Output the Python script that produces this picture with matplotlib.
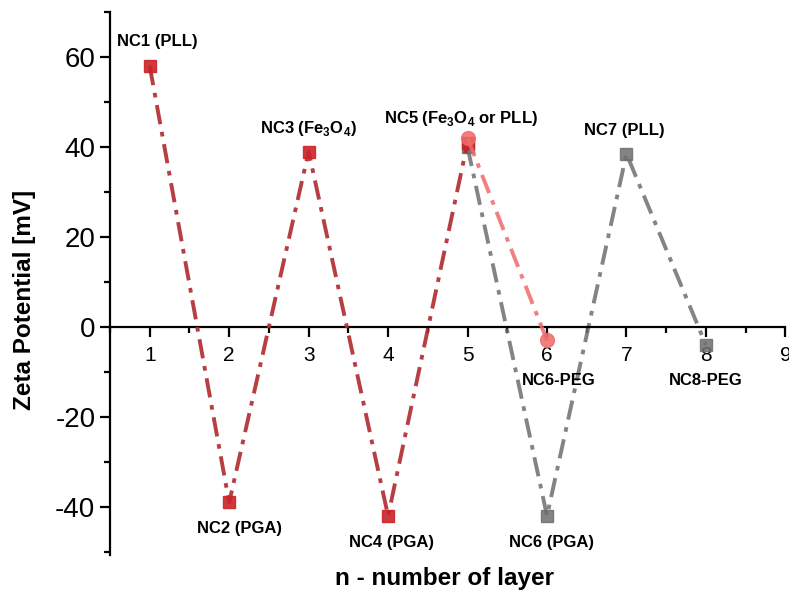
import matplotlib.pyplot as plt
from matplotlib.ticker import MultipleLocator

plt.rcParams['font.family'] = ['Liberation Sans', 'DejaVu Sans']
plt.rcParams['axes.unicode_minus'] = False

# layer-by-layer zeta potential
red_n = [1, 2, 3, 4, 5]
red_zeta = [58, -39, 39, -42, 41]
peg_n = [5, 6]
peg_zeta = [42, -3]
gray_n = [5, 6, 7, 8]
gray_zeta = [40, -42, 38.5, -4]

labels = ["NC1 (PLL)", "NC2 (PGA)", r"NC3 (Fe$_\mathregular{3}$O$_\mathregular{4}$)", "NC4 (PGA)",
          r"NC5 (Fe$_\mathregular{3}$O$_\mathregular{4}$ or PLL)", "NC6-PEG", "NC6 (PGA)",
          "NC7 (PLL)", "NC8-PEG"]
label_x = [1.1, 2.13, 3.0, 4.04, 4.92, 6.15, 6.06, 6.97, 8.0]
label_y = [63.5, -44.7, 44.2, -47.8, 46.4, -11.8, -48, 43.6, -11.8]

fig = plt.figure(figsize=(7.89, 6.04), dpi=100)
ax = fig.add_axes([0.1394, 0.081, 0.856, 0.899])

dash = (0, (5, 2, 1.2, 2))
ax.plot(gray_n, gray_zeta, color='#6e6e6e', alpha=0.85, lw=2.8, linestyle=dash,
        marker='s', ms=8, zorder=2)
ax.plot(red_n, red_zeta, color='#b02a30', alpha=0.9, lw=2.8, linestyle=dash,
        marker='s', ms=8, mfc='#cc2229', mec='#cc2229', zorder=3)
ax.plot(peg_n, peg_zeta, color='#f06a6a', alpha=0.85, lw=2.8, linestyle=dash,
        marker='o', ms=10, zorder=4)

for t, x, y in zip(labels, label_x, label_y):
    ax.text(x, y, t, ha='center', va='center', fontsize=12, fontweight='bold')

ax.set_xlim(0.5, 9)
ax.set_ylim(-50.7, 70)
ax.spines['top'].set_visible(False)
ax.spines['right'].set_visible(False)
ax.spines['bottom'].set_position(('data', 0))
ax.spines['left'].set_linewidth(1.6)
ax.spines['bottom'].set_linewidth(1.6)

ax.xaxis.set_major_locator(MultipleLocator(1))
ax.xaxis.set_minor_locator(MultipleLocator(0.5))
ax.yaxis.set_major_locator(MultipleLocator(20))
ax.yaxis.set_minor_locator(MultipleLocator(10))
ax.set_xticks(range(1, 10))
ax.tick_params(axis='x', which='major', labelsize=15, length=7, width=1.6, pad=7)
ax.tick_params(axis='x', which='minor', length=4, width=1.6)
ax.tick_params(axis='y', which='major', labelsize=20, length=7, width=1.6)
ax.tick_params(axis='y', which='minor', length=4, width=1.6)

ax.set_ylabel('Zeta Potential [mV]', fontsize=17.5, fontweight='bold')
ax.yaxis.set_label_coords(-0.11, 0.47)
fig.text(0.563, 0.043, 'n - number of layer', ha='center', va='center',
         fontsize=17.5, fontweight='bold')

fig.savefig('out.png', dpi=100)
